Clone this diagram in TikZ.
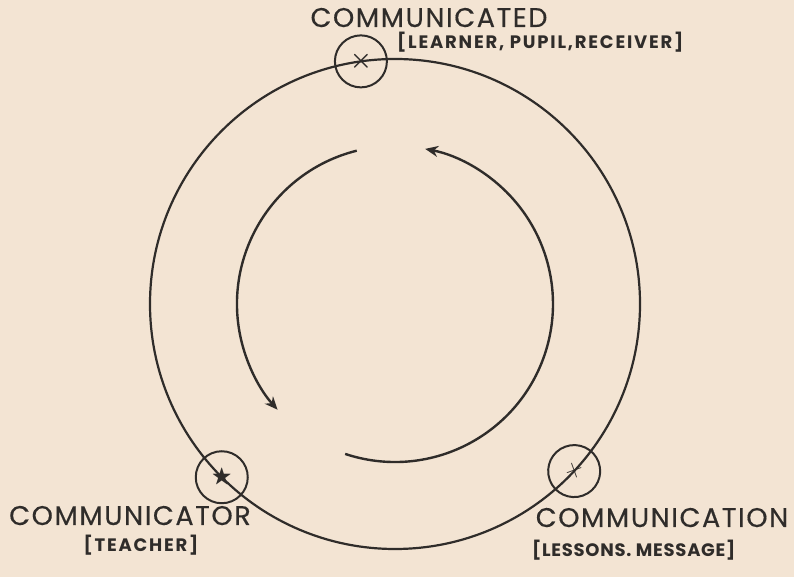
\documentclass[tikz,border=0pt]{standalone}
\usepackage{amsmath,amssymb}
\usepackage{fontspec}
\setmainfont{Poppins}
\newfontfamily\rolefont{Poppins}[LetterSpace=6, FakeBold=0.4]
\newfontfamily\detailfont{Poppins}[LetterSpace=10]
\newfontfamily\detailtightfont{Poppins}[LetterSpace=4]
\usetikzlibrary{arrows.meta,positioning,calc}
\definecolor{paper}{HTML}{F3E4D3}
\definecolor{ink}{HTML}{2F2C2A}
\tikzset{
  cyc/ring/.style={draw=ink, line width=2.2pt},
  cyc/marker/.style={draw=ink, circle, line width=2pt, minimum size=52pt, inner sep=0pt, text=ink, font=\fontsize{30}{30}\selectfont},
  cyc/role/.style={text=ink, font=\rolefont\fontsize{27}{30}\selectfont, inner sep=0pt},
  cyc/detail/.style={text=ink, font=\detailfont\bfseries\fontsize{18}{20}\selectfont, inner sep=0pt},
  cyc/detailtight/.style={cyc/detail, font=\detailtightfont\bfseries\fontsize{18}{20}\selectfont},
  cyc/flow/.style={draw=ink, line width=2.4pt, -{Stealth[length=13pt,width=11pt]}}
}

\begin{document}
\begin{tikzpicture}[x=1pt,y=1pt]
  \fill[paper] (0,0) rectangle (794,577);
  \useasboundingbox (0,0) rectangle (794,577);
  \coordinate (hub) at (395,273);

  % outer cycle and the three stations on it
  \draw[cyc/ring] (hub) circle[radius=245];
  \node[cyc/marker] (learner) at ($(hub)+(98:245)$) {$\boldsymbol{\times}$};
  \node[cyc/marker] (teacher) at ($(hub)+(225:245)$) {\scalebox{0.7}{$\bigstar$}};
  \node[cyc/marker, rotate=20] (lesson) at ($(hub)+(317:245)$) {$+$};

  % labels
  \node[cyc/role, anchor=base] (learnerlbl) at (429,550) {COMMUNICATED};
  \node[cyc/detail, anchor=north west] (learnerinfo) at (397,545) {[LEARNER, PUPIL,RECEIVER]};
  \node[cyc/role, anchor=base] (teacherlbl) at (130,52) {COMMUNICATOR};
  \node[cyc/detail, below=9pt of teacherlbl, xshift=11pt] (teacherinfo) {[TEACHER]};
  \node[cyc/role, anchor=base] (lessonlbl) at (662,50) {COMMUNICATION};
  \node[cyc/detailtight, anchor=north west] (lessoninfo) at (532,37) {[LESSONS. MESSAGE]};

  % inner flow arrows
  \coordinate (flowA) at ($(hub)+(104:158)$);
  \coordinate (flowB) at ($(hub)+(251.6:158)$);
  \draw[cyc/flow] (flowA) arc[start angle=104, end angle=222, radius=158];
  \draw[cyc/flow] (flowB) arc[start angle=251.6, end angle=439, radius=158];
\end{tikzpicture}
\end{document}
